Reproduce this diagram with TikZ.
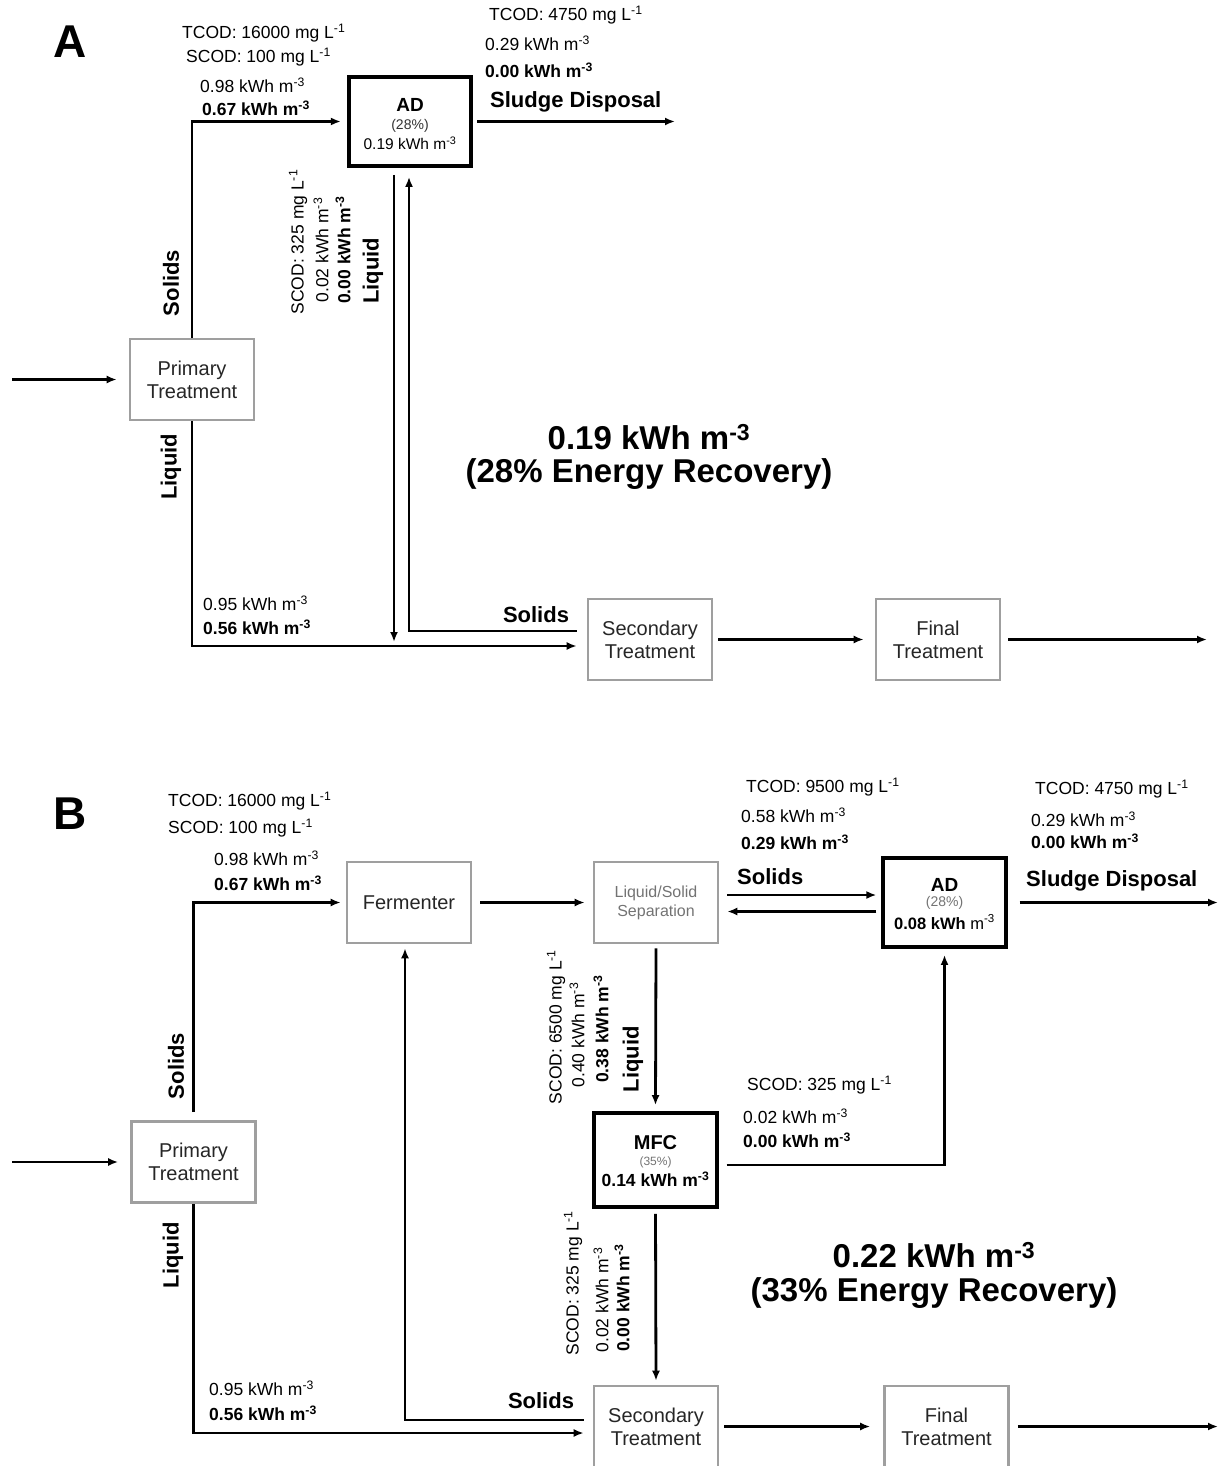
\documentclass[tikz,border=0pt]{standalone}
\usepackage{fontspec}
\setmainfont{Liberation Sans}
\usetikzlibrary{arrows.meta}
\newcommand\mysm{\fontsize{17.5}{21}\selectfont}
\newcommand\mybx{\fontsize{20}{23}\selectfont}
\newcommand\mytag{\fontsize{22}{26}\selectfont\bfseries}
\newcommand\mybig{\fontsize{33}{38}\selectfont\bfseries}
\newcommand\mypanel{\fontsize{46}{50}\selectfont\bfseries}
\newcommand\mykwh{kWh m\textsuperscript{-3}}
\newcommand\mymgl{mg L\textsuperscript{-1}}
\begin{document}
\begin{tikzpicture}[x=1pt,y=-1pt,
  box/.style={draw=gray!75, line width=2.6pt, minimum width=124pt, minimum height=81pt, inner sep=0pt, align=center, font=\mybx, text=black!85},
  hbox/.style={draw=black, line width=3.8pt, minimum width=122.5pt, inner sep=0pt},
  flow/.style={line width=2.8pt, -{Latex[length=10pt,width=8pt]}},
  lbl/.style={font=\mysm, inner sep=0pt, anchor=west},
  blbl/.style={lbl, font=\mysm\bfseries},
  rlbl/.style={font=\mysm, inner sep=0pt, rotate=90},
  rblbl/.style={rlbl, font=\mysm\bfseries},
  tag/.style={font=\mytag, inner sep=0pt},
  big/.style={font=\mybig, inner sep=0pt, align=center},
  intext/.style={inner sep=0pt}
]
\useasboundingbox (0,0) rectangle (1222,1466);
\clip (0,0) rectangle (1222,1466);

% ================= Panel A =================
\node[font=\mypanel, inner sep=0pt] (pA) at (70,42) {A};

\node[box] (ptA) at (192,379.5) {Primary\\Treatment};
\node[hbox, minimum height=89pt] (adA) at (410,121.5) {};
\node[intext, font=\fontsize{19}{22}\selectfont\bfseries] (adAt1) at (410,105) {AD};
\node[intext, font=\fontsize{14}{16}\selectfont, text=black!80] (adAt2) at (410,126) {(28\%)};
\node[intext, font=\fontsize{15.5}{18}\selectfont] (adAt3) at (410,143) {0.19 \mykwh};
\node[box] (stA) at (650,639.5) {Secondary\\Treatment};
\node[box] (ftA) at (938,639.5) {Final\\Treatment};

\coordinate (inA) at (12,379.5);
\coordinate (sdA) at (675,121.5);
\coordinate (jA) at (394,642);
\coordinate (outA) at (1207,639.5);

\draw[flow, shorten >=12pt] (inA) -- (ptA.west);
\draw[flow, shorten >=6pt] (ptA.north) |- (adA.west);
\draw[flow, shorten <=4pt] (adA.east) -- (sdA);
\draw[flow, shorten <=7pt] (adA.south -| jA) -- (jA);
\draw[flow] ([xshift=-10pt,yshift=8.5pt]stA.west) -| ([xshift=-1pt,yshift=-9pt]adA.south);
\draw[flow] (ptA.south) |- ([xshift=-10pt,yshift=-6.5pt]stA.west);
\draw[flow, shorten <=5pt, shorten >=11pt] (stA.east) -- (ftA.west);
\draw[flow, shorten <=7pt] (ftA.east) -- (outA);

\node[lbl] (a1) at (182,33) {TCOD: 16000 \mymgl};
\node[lbl] (a2) at (186,57) {SCOD: 100 \mymgl};
\node[lbl] (a3) at (200,85) {0.98 \mykwh};
\node[blbl] (a4) at (202,108) {0.67 \mykwh};
\node[lbl] (a5) at (489,15) {TCOD: 4750 \mymgl};
\node[lbl] (a6) at (485,43) {0.29 \mykwh};
\node[blbl] (a7) at (485,70) {0.00 \mykwh};
\node[tag, anchor=west] (a8) at (490,102) {Sludge Disposal};
\node[tag, rotate=90] (a9) at (171,283) {Solids};
\node[rlbl] (a10) at (298,242) {SCOD: 325 \mymgl};
\node[rlbl] (a11) at (321,250) {0.02 \mykwh};
\node[rblbl] (a12) at (343,250) {0.00 \mykwh};
\node[tag, rotate=90] (a13) at (373,271) {Liquid};
\node[tag, rotate=90] (a14) at (171,467) {Liquid};
\node[lbl] (a15) at (203,603) {0.95 \mykwh};
\node[blbl] (a16) at (203,627) {0.56 \mykwh};
\node[tag] (a17) at (536,615) {Solids};
\node[big] (a18) at (649,437) {0.19 kWh m\textsuperscript{-3}};
\node[big] (a19) at (649,474) {(28\% Energy Recovery)};

% ================= Panel B =================
\node[font=\mypanel, inner sep=0pt] (pB) at (70,814) {B};

\node[box] (ptB) at (193.5,1162) {Primary\\Treatment};
\node[box] (fmB) at (409,902.5) {Fermenter};
\node[box, font=\fontsize{16}{19}\selectfont, text=black!55] (lsB) at (656,902.5) {Liquid/Solid\\Separation};
\node[hbox, minimum height=89pt] (adB) at (944.5,902.5) {};
\node[intext, font=\fontsize{19}{22}\selectfont\bfseries] (adBt1) at (944.5,885) {AD};
\node[intext, font=\fontsize{14}{16}\selectfont, text=black!55] (adBt2) at (944.5,903) {(28\%)};
\node[intext, font=\fontsize{16.5}{19}\selectfont] (adBt3) at (944.5,922) {\textbf{0.08 kWh} m\textsuperscript{-3}};
\node[hbox, minimum height=94pt] (mfcB) at (655.5,1160) {};
\node[intext, font=\fontsize{20}{23}\selectfont\bfseries] (mfcBt1) at (655.5,1143) {MFC};
\node[intext, font=\fontsize{12}{14}\selectfont, text=black!55] (mfcBt2) at (655.5,1162) {(35\%)};
\node[intext, font=\fontsize{17.5}{20}\selectfont\bfseries] (mfcBt3) at (655.5,1179) {0.14 \mykwh};
\node[box] (stB) at (656,1426.5) {Secondary\\Treatment};
\node[box] (ftB) at (946.5,1426.5) {Final\\Treatment};

\coordinate (inB) at (12,1162);
\coordinate (sdB) at (1218,902.5);
\coordinate (outB) at (1218,1426.5);

\draw[flow, shorten >=12pt] (inB) -- (ptB.west);
\draw[flow, shorten <=8pt, shorten >=5pt] (ptB.north) |- (fmB.west);
\draw[flow] ([xshift=8pt]fmB.east) -- ([xshift=-8pt]lsB.west);
\draw[flow] ([xshift=8pt,yshift=7.5pt]lsB.east) -- ([xshift=-5pt,yshift=7.5pt]adB.west);
\draw[flow] ([xshift=-5pt,yshift=-9pt]adB.west) -- ([xshift=8pt,yshift=-9pt]lsB.east);
\draw[flow, shorten <=12pt] (adB.east) -- (sdB);
\draw[flow] ([yshift=-4pt]lsB.south) -- ([yshift=6pt]mfcB.north);
\draw[flow] ([xshift=8pt,yshift=-5pt]mfcB.east) -| ([yshift=-6pt]adB.south);
\draw[flow] ([yshift=-5pt]mfcB.south) -- ([yshift=4pt]stB.north);
\draw[flow] (ptB.south) |- ([xshift=-9pt,yshift=-6.5pt]stB.west);
\draw[flow] ([xshift=-9pt,yshift=6.5pt]stB.west) -| ([xshift=-4pt,yshift=-4pt]fmB.south);
\draw[flow, shorten <=5pt, shorten >=13pt] (stB.east) -- (ftB.west);
\draw[flow, shorten <=8pt] (ftB.east) -- (outB);

\node[lbl] (b1) at (168,801) {TCOD: 16000 \mymgl};
\node[lbl] (b2) at (168,828) {SCOD: 100 \mymgl};
\node[lbl] (b3) at (214,858) {0.98 \mykwh};
\node[blbl] (b4) at (214,883) {0.67 \mykwh};
\node[tag, rotate=90] (b5) at (176,1066) {Solids};
\node[tag, rotate=90] (b6) at (173,1255) {Liquid};
\node[lbl] (b7) at (746,787) {TCOD: 9500 \mymgl};
\node[lbl] (b8) at (741,815) {0.58 \mykwh};
\node[blbl] (b9) at (741,842) {0.29 \mykwh};
\node[tag, anchor=west] (b10) at (737,877) {Solids};
\node[lbl] (b11) at (1035,789) {TCOD: 4750 \mymgl};
\node[lbl] (b12) at (1031,819) {0.29 \mykwh};
\node[blbl] (b13) at (1031,841) {0.00 \mykwh};
\node[tag, anchor=west] (b14) at (1026,881) {Sludge Disposal};
\node[rlbl] (b15) at (556,1027) {SCOD: 6500 \mymgl};
\node[rlbl] (b16) at (577,1035) {0.40 \mykwh};
\node[rblbl] (b17) at (601,1029) {0.38 \mykwh};
\node[tag, rotate=90] (b18) at (633,1059) {Liquid};
\node[lbl] (b19) at (747,1085) {SCOD: 325 \mymgl};
\node[lbl] (b20) at (743,1116) {0.02 \mykwh};
\node[blbl] (b21) at (743,1140) {0.00 \mykwh};
\node[rlbl] (b22) at (573,1283) {SCOD: 325 \mymgl};
\node[rlbl] (b23) at (601,1300) {0.02 \mykwh};
\node[rblbl] (b24) at (622,1298) {0.00 \mykwh};
\node[big] (b25) at (934,1255) {0.22 kWh m\textsuperscript{-3}};
\node[big] (b26) at (934,1293) {(33\% Energy Recovery)};
\node[lbl] (b27) at (209,1388) {0.95 \mykwh};
\node[blbl] (b28) at (209,1413) {0.56 \mykwh};
\node[tag] (b29) at (541,1401) {Solids};
\end{tikzpicture}
\end{document}
